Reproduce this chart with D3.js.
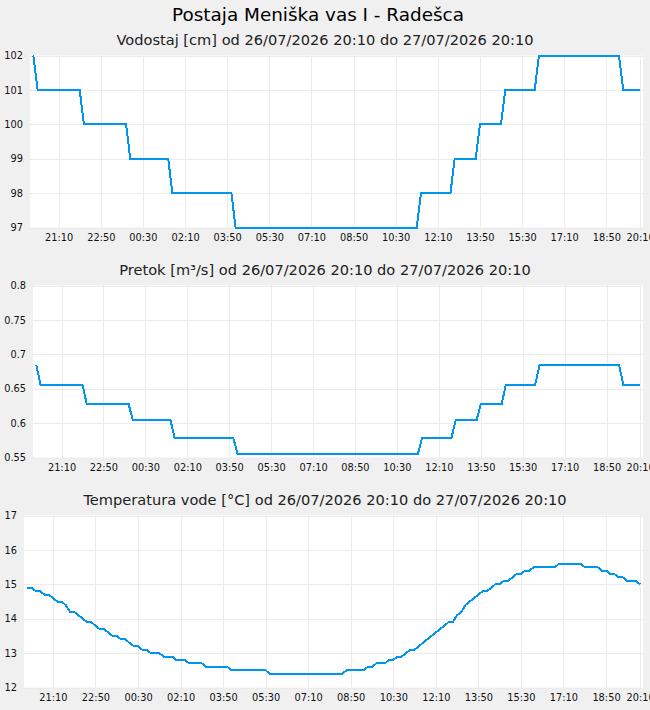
<!DOCTYPE html>
<html>
<head>
<meta charset="utf-8">
<script src="https://cdn.jsdelivr.net/npm/d3@7"></script>
<style>
body { margin: 0; background: #f0f0f0; }
text { font-family: "DejaVu Sans", sans-serif; }
</style>
</head>
<body>
<div id="canvas"></div>
<script>
/* Configuration variables: drawing */
let svgWidth = 650;
let svgHeight = 710;
let plotRight = 643;
let plotHeight = 172;
let lineColor = "#0096f0";
let gridColor = "#ebebeb";

/* Data: one sample every 10 minutes from 26/07/2026 20:10 */
let startTime = new Date(2026, 6, 26, 20, 10);
let stepMinutes = 10;

// Vodostaj [cm], one row = one hour
let levelValues = [
    102, 101, 101, 101, 101, 101,
    101, 101, 101, 101, 101, 101,
    100, 100, 100, 100, 100, 100,
    100, 100, 100, 100, 100, 99,
    99, 99, 99, 99, 99, 99,
    99, 99, 99, 98, 98, 98,
    98, 98, 98, 98, 98, 98,
    98, 98, 98, 98, 98, 98,
    97, 97, 97, 97, 97, 97,
    97, 97, 97, 97, 97, 97,
    97, 97, 97, 97, 97, 97,
    97, 97, 97, 97, 97, 97,
    97, 97, 97, 97, 97, 97,
    97, 97, 97, 97, 97, 97,
    97, 97, 97, 97, 97, 97,
    97, 97, 98, 98, 98, 98,
    98, 98, 98, 98, 99, 99,
    99, 99, 99, 99, 100, 100,
    100, 100, 100, 100, 101, 101,
    101, 101, 101, 101, 101, 101,
    102, 102, 102, 102, 102, 102,
    102, 102, 102, 102, 102, 102,
    102, 102, 102, 102, 102, 102,
    102, 102, 101, 101, 101, 101,
    101
];

// Pretok [m3/s]
let flowValues = [
    0.684, 0.656, 0.656, 0.656, 0.656, 0.656,
    0.656, 0.656, 0.656, 0.656, 0.656, 0.656,
    0.628, 0.628, 0.628, 0.628, 0.628, 0.628,
    0.628, 0.628, 0.628, 0.628, 0.628, 0.604,
    0.604, 0.604, 0.604, 0.604, 0.604, 0.604,
    0.604, 0.604, 0.604, 0.578, 0.578, 0.578,
    0.578, 0.578, 0.578, 0.578, 0.578, 0.578,
    0.578, 0.578, 0.578, 0.578, 0.578, 0.578,
    0.555, 0.555, 0.555, 0.555, 0.555, 0.555,
    0.555, 0.555, 0.555, 0.555, 0.555, 0.555,
    0.555, 0.555, 0.555, 0.555, 0.555, 0.555,
    0.555, 0.555, 0.555, 0.555, 0.555, 0.555,
    0.555, 0.555, 0.555, 0.555, 0.555, 0.555,
    0.555, 0.555, 0.555, 0.555, 0.555, 0.555,
    0.555, 0.555, 0.555, 0.555, 0.555, 0.555,
    0.555, 0.555, 0.578, 0.578, 0.578, 0.578,
    0.578, 0.578, 0.578, 0.578, 0.604, 0.604,
    0.604, 0.604, 0.604, 0.604, 0.628, 0.628,
    0.628, 0.628, 0.628, 0.628, 0.656, 0.656,
    0.656, 0.656, 0.656, 0.656, 0.656, 0.656,
    0.684, 0.684, 0.684, 0.684, 0.684, 0.684,
    0.684, 0.684, 0.684, 0.684, 0.684, 0.684,
    0.684, 0.684, 0.684, 0.684, 0.684, 0.684,
    0.684, 0.684, 0.656, 0.656, 0.656, 0.656,
    0.656
];

// Temperatura vode [°C]
let tempValues = [
    14.9, 14.9, 14.8, 14.8, 14.7, 14.7,
    14.6, 14.5, 14.5, 14.4, 14.2, 14.2,
    14.1, 14.0, 13.9, 13.9, 13.8, 13.7,
    13.7, 13.6, 13.5, 13.5, 13.4, 13.4,
    13.3, 13.2, 13.2, 13.1, 13.1, 13.0,
    13.0, 13.0, 12.9, 12.9, 12.9, 12.8,
    12.8, 12.8, 12.7, 12.7, 12.7, 12.7,
    12.6, 12.6, 12.6, 12.6, 12.6, 12.6,
    12.5, 12.5, 12.5, 12.5, 12.5, 12.5,
    12.5, 12.5, 12.5, 12.4, 12.4, 12.4,
    12.4, 12.4, 12.4, 12.4, 12.4, 12.4,
    12.4, 12.4, 12.4, 12.4, 12.4, 12.4,
    12.4, 12.4, 12.4, 12.5, 12.5, 12.5,
    12.5, 12.5, 12.6, 12.6, 12.7, 12.7,
    12.7, 12.8, 12.8, 12.9, 12.9, 13.0,
    13.1, 13.1, 13.2, 13.3, 13.4, 13.5,
    13.6, 13.7, 13.8, 13.9, 13.9, 14.1,
    14.2, 14.4, 14.5, 14.6, 14.7, 14.8,
    14.8, 14.9, 15.0, 15.0, 15.1, 15.1,
    15.2, 15.3, 15.3, 15.4, 15.4, 15.5,
    15.5, 15.5, 15.5, 15.5, 15.5, 15.6,
    15.6, 15.6, 15.6, 15.6, 15.6, 15.5,
    15.5, 15.5, 15.5, 15.4, 15.4, 15.3,
    15.3, 15.2, 15.2, 15.1, 15.1, 15.1,
    15.0
];

// tick labels on the time axis
let timeTicks = [
    "26/07/2026 21:10", "26/07/2026 22:50", "27/07/2026 00:30", "27/07/2026 02:10",
    "27/07/2026 03:50", "27/07/2026 05:30", "27/07/2026 07:10", "27/07/2026 08:50",
    "27/07/2026 10:30", "27/07/2026 12:10", "27/07/2026 13:50", "27/07/2026 15:30",
    "27/07/2026 17:10", "27/07/2026 18:50", "27/07/2026 20:10"
];
let levelTicks = [97, 98, 99, 100, 101, 102];
let flowTicks = [0.55, 0.6, 0.65, 0.7, 0.75, 0.8];
let tempTicks = [12, 13, 14, 15, 16, 17];

let mainTitle = "Postaja Meniška vas I - Radešca";
let period = "od 26/07/2026 20:10 do 27/07/2026 20:10";

let parseTime = d3.timeParse("%d/%m/%Y %H:%M");
let tickTimes = timeTicks.map(parseTime);
let sampleTimes = levelValues.map((v, i) => d3.timeMinute.offset(startTime, i * stepMinutes));
let endTime = sampleTimes[sampleTimes.length - 1];

/* Create drawing canvas */
let svg = d3.select("#canvas")
    .append("svg")
    .attr("width", svgWidth)
    .attr("height", svgHeight);

svg.append("rect")
    .attr("width", svgWidth)
    .attr("height", svgHeight)
    .attr("fill", "#f0f0f0");

svg.append("text")
    .attr("x", 318)
    .attr("y", 20.5)
    .attr("text-anchor", "middle")
    .attr("font-size", 18.4)
    .attr("fill", "#000")
    .text(mainTitle);

let panels = [
    { title: "Vodostaj [cm] " + period, values: levelValues, ticks: levelTicks, left: 30, top: 55.5 },
    { title: "Pretok [m³/s] " + period, values: flowValues, ticks: flowTicks, left: 33, top: 285.5 },
    { title: "Temperatura vode [°C] " + period, values: tempValues, ticks: tempTicks, left: 24, top: 515.5 }
];

panels.forEach(function(p) {
    let bottom = p.top + plotHeight;

    let xScale = d3.scaleTime()
        .domain([d3.timeMinute.offset(startTime, -8), d3.timeMinute.offset(endTime, 7)])
        .range([p.left, plotRight]);

    let yScale = d3.scaleLinear()
        .domain(d3.extent(p.ticks))
        .range([bottom, p.top]);

    let g = svg.append("g");

    // white plot area
    g.append("rect")
        .attr("x", p.left)
        .attr("y", p.top)
        .attr("width", plotRight - p.left)
        .attr("height", plotHeight)
        .attr("fill", "#fff");

    // grid
    g.selectAll(".hgrid")
        .data(p.ticks)
        .enter()
        .append("line")
        .attr("x1", p.left).attr("x2", plotRight)
        .attr("y1", d => Math.round(yScale(d)) + 0.5)
        .attr("y2", d => Math.round(yScale(d)) + 0.5)
        .attr("stroke", gridColor)
        .attr("stroke-width", 1);

    g.selectAll(".vgrid")
        .data(tickTimes)
        .enter()
        .append("line")
        .attr("x1", d => Math.round(xScale(d)) + 0.5)
        .attr("x2", d => Math.round(xScale(d)) + 0.5)
        .attr("y1", p.top).attr("y2", bottom)
        .attr("stroke", gridColor)
        .attr("stroke-width", 1);

    // axes, labels only
    let yAxis = g.append("g")
        .attr("transform", `translate(${p.left},0)`)
        .call(d3.axisLeft(yScale).tickValues(p.ticks).tickSize(0).tickPadding(7).tickFormat(d => String(d)));
    yAxis.select(".domain").remove();

    let xAxis = g.append("g")
        .attr("transform", `translate(0,${bottom})`)
        .call(d3.axisBottom(xScale).tickValues(tickTimes).tickSize(0).tickPadding(6.5).tickFormat(d3.timeFormat("%H:%M")));
    xAxis.select(".domain").remove();

    g.selectAll(".tick text")
        .attr("font-family", "DejaVu Sans")
        .attr("font-size", 9.8)
        .attr("fill", "#111");

    // panel title
    g.append("text")
        .attr("x", 325)
        .attr("y", p.top - 10.5)
        .attr("text-anchor", "middle")
        .attr("font-size", 14.6)
        .attr("fill", "#222")
        .text(p.title);

    // the series line
    let line = d3.line()
        .x((d, i) => xScale(sampleTimes[i]))
        .y(d => yScale(d));

    g.append("path")
        .datum(p.values)
        .attr("d", line)
        .attr("fill", "none")
        .attr("stroke", lineColor)
        .attr("stroke-width", 2)
        .attr("shape-rendering", "crispEdges");
});
</script>
</body>
</html>
